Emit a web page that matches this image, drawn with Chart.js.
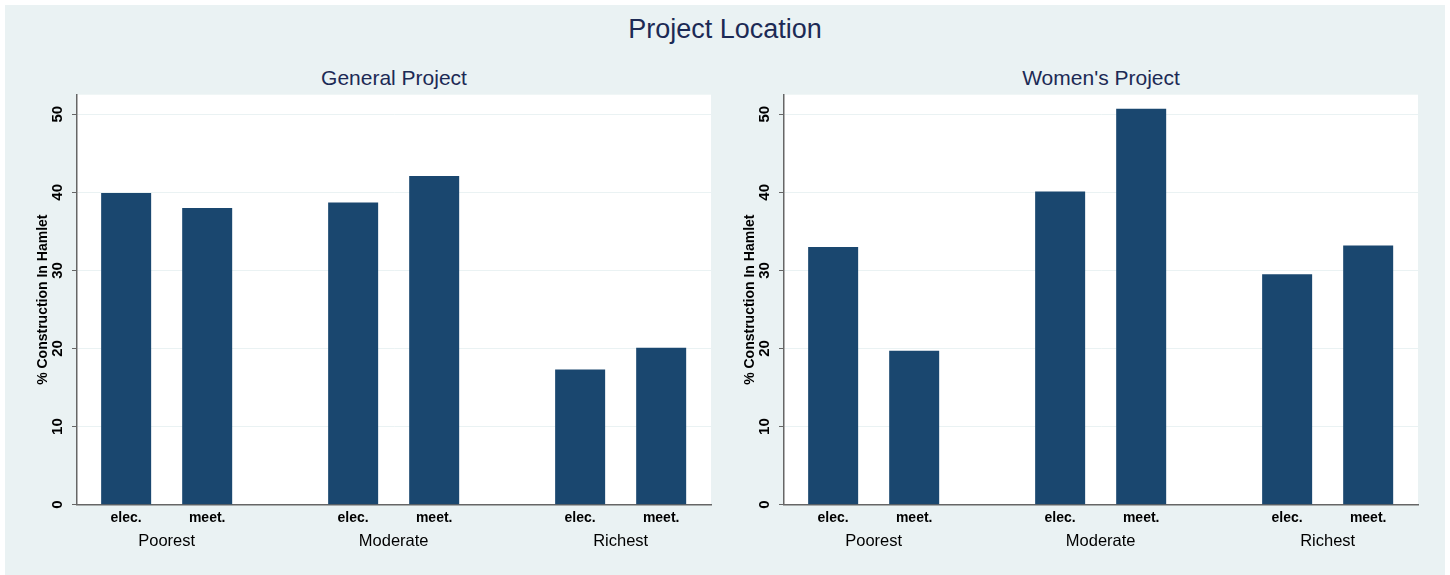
<!DOCTYPE html>
<html>
<head>
<meta charset="utf-8">
<script src="https://cdn.jsdelivr.net/npm/chart.js@4.4.1/dist/chart.umd.min.js"></script>
<style>
    body { margin: 0; background: #ffffff; width: 1450px; height: 575px; overflow: hidden; position: relative; font-family: "Liberation Sans", Arial, sans-serif; }
    #region { position: absolute; left: 5px; top: 5px; width: 1440px; height: 570px; background: #eaf2f3; }
    .title { position: absolute; color: #1c2a55; white-space: nowrap; transform: translateX(-50%); }
    #main-title { left: 725px; top: 14px; font-size: 27px; }
    .sub-title { top: 66px; font-size: 21px; }
    .panel { position: absolute; top: 90px; width: 720px; height: 480px; }
</style>
</head>
<body>
<div id="region"></div>
<div class="title" id="main-title">Project Location</div>
<div class="title sub-title" style="left: 394px;">General Project</div>
<div class="title sub-title" style="left: 1101px;">Women's Project</div>
<div class="panel" style="left: 5px;"><canvas id="generalChart"></canvas></div>
<div class="panel" style="left: 712px;"><canvas id="womenChart"></canvas></div>

<script>
const groups = ['Poorest', 'Moderate', 'Richest'];
const seriesLabels = ['elec.', 'meet.'];
const generalElec = [39.9, 38.7, 17.3];
const generalMeet = [38.0, 42.1, 20.1];
const womenElec = [33.0, 40.1, 29.5];
const womenMeet = [19.7, 50.7, 33.2];
const yTicks = [0, 10, 20, 30, 40, 50];

const barColor = '#1a476f';
const axisColor = '#666666';
const gridColor = '#eaf2f3';
const fontFamily = '"Liberation Sans", Arial, sans-serif';

// white plot area
const plotBackground = {
    id: 'plotBackground',
    beforeDraw(chart) {
        const { ctx, chartArea } = chart;
        ctx.save();
        ctx.fillStyle = '#ffffff';
        ctx.fillRect(chartArea.left, chartArea.top, chartArea.right - chartArea.left, chartArea.bottom - chartArea.top);
        ctx.restore();
    }
};

// per-bar labels under the axis (elec. / meet.)
const barLabels = {
    id: 'barLabels',
    afterDraw(chart) {
        const { ctx, chartArea } = chart;
        ctx.save();
        ctx.font = 'bold 14px ' + fontFamily;
        ctx.fillStyle = '#000000';
        ctx.textAlign = 'center';
        ctx.textBaseline = 'middle';
        chart.data.datasets.forEach((ds, i) => {
            chart.getDatasetMeta(i).data.forEach(bar => {
                ctx.fillText(ds.label, bar.x, chartArea.bottom + 13);
            });
        });
        ctx.restore();
    }
};

function noPadding(axis) {
    axis.paddingTop = 0;
    axis.paddingBottom = 0;
    axis.paddingLeft = 0;
    axis.paddingRight = 0;
}

function makeChart(id, elec, meet) {
    const ctx = document.getElementById(id).getContext('2d');
    return new Chart(ctx, {
        type: 'bar',
        data: {
            datasets: [
                {
                    label: seriesLabels[0],
                    data: elec.map((v, i) => ({ x: i, y: v })),
                    backgroundColor: barColor,
                    borderWidth: 0
                },
                {
                    label: seriesLabels[1],
                    data: meet.map((v, i) => ({ x: i, y: v })),
                    backgroundColor: barColor,
                    borderWidth: 0
                }
            ]
        },
        options: {
            responsive: true,
            maintainAspectRatio: false,
            animation: false,
            categoryPercentage: 0.714,
            barPercentage: 0.617,
            layout: { padding: { top: 4.7, right: 14, bottom: 0, left: 0 } },
            plugins: {
                legend: { display: false },
                tooltip: { enabled: false }
            },
            scales: {
                x: {
                    type: 'linear',
                    offset: false,
                    bounds: 'data',
                    min: -0.395,
                    max: 2.398,
                    grid: { display: false, drawTicks: false, offset: false },
                    border: { display: true, color: axisColor, width: 1.5 },
                    afterBuildTicks: axis => { axis.ticks = groups.map((g, i) => ({ value: i })); },
                    afterFit: axis => { axis.height = 65.3; noPadding(axis); },
                    ticks: {
                        padding: 27,
                        color: '#000000',
                        font: { family: fontFamily, size: 16.5 },
                        maxRotation: 0,
                        autoSkip: false,
                        callback: value => groups[value]
                    }
                },
                y: {
                    min: 0,
                    max: 52.5,
                    grid: { color: gridColor, lineWidth: 1, tickColor: axisColor, tickLength: 5 },
                    border: { display: true, color: axisColor, width: 1.5 },
                    afterBuildTicks: axis => { axis.ticks = yTicks.map(v => ({ value: v })); },
                    afterFit: axis => { axis.width = 72; noPadding(axis); },
                    ticks: {
                        padding: 6,
                        crossAlign: 'center',
                        minRotation: 90,
                        maxRotation: 90,
                        color: '#000000',
                        font: { family: fontFamily, size: 15, weight: 'bold' }
                    },
                    title: {
                        display: true,
                        text: '% Construction In Hamlet',
                        color: '#000000',
                        font: { family: fontFamily, size: 14, weight: 'bold' },
                        padding: { top: 30, bottom: 0 }
                    }
                }
            }
        },
        plugins: [plotBackground, barLabels]
    });
}

makeChart('generalChart', generalElec, generalMeet);
makeChart('womenChart', womenElec, womenMeet);
</script>
</body>
</html>
